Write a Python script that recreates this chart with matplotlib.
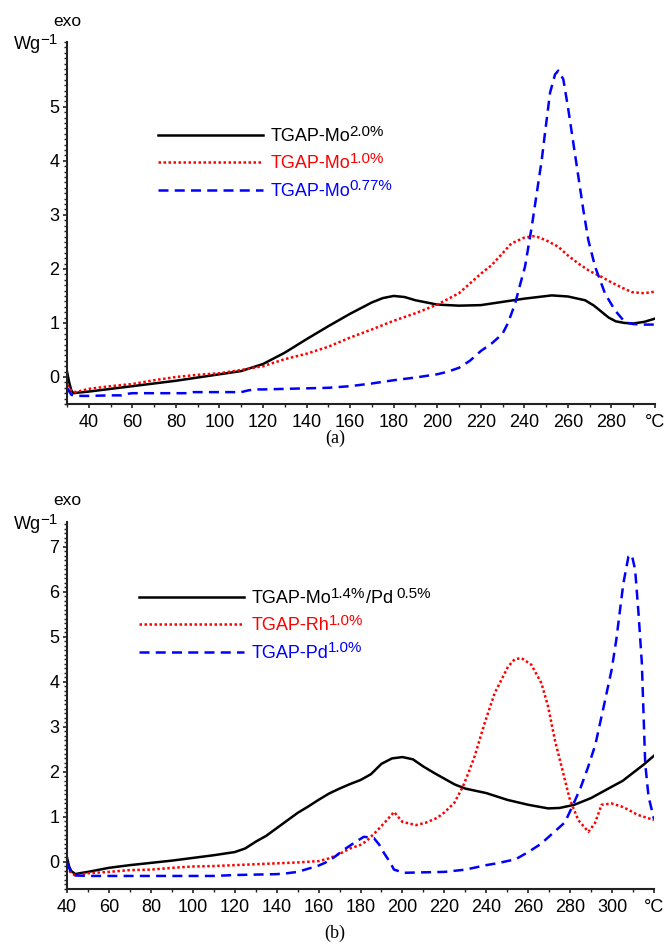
import matplotlib
matplotlib.use("Agg")
import matplotlib.pyplot as plt
from matplotlib.ticker import MultipleLocator
from matplotlib.transforms import IdentityTransform

plt.rcParams['font.family'] = ['Liberation Sans', 'DejaVu Sans']

# ---- panel (a) data ----
# legend labels as (text, is_superscript, gap_px) pieces
a_labels = [[("TGAP-Mo", False, 0), ("2.0%", True, -1)],
            [("TGAP-Mo", False, 0), ("1.0%", True, -1)],
            [("TGAP-Mo", False, 0), ("0.77%", True, -1)]]
a_xticks = [40, 60, 80, 100, 120, 140, 160, 180, 200, 220, 240, 260, 280, 300]
a_xticklabels = ["40", "60", "80", "100", "120", "140", "160", "180", "200",
                 "220", "240", "260", "280", "°C"]

a_black_x = [30, 31, 32, 33, 35, 40, 50, 60, 70, 80, 90, 100, 110, 120, 130, 140,
             150, 160, 170, 175, 180, 185, 190, 200, 210, 220, 225, 230, 240, 252.6,
             260, 267.9, 272, 278.7, 282, 286, 290, 295, 300]
a_black_y = [0.1, -0.1, -0.25, -0.3, -0.29, -0.27, -0.22, -0.17, -0.12, -0.07, -0.01,
             0.05, 0.11, 0.24, 0.45, 0.7, 0.94, 1.17, 1.38, 1.46, 1.5, 1.48, 1.42,
             1.34, 1.32, 1.33, 1.36, 1.39, 1.45, 1.51, 1.49, 1.42, 1.32, 1.1, 1.03,
             1.0, 0.99, 1.02, 1.08]

a_red_x = [30, 32, 34, 40, 50, 60, 70, 80, 90, 100, 110, 120, 130, 140, 150, 160,
           170, 180, 190, 200, 210, 220, 225, 230, 234, 240, 244.9, 250, 255.6, 260,
           264.8, 270, 275.6, 280, 285, 289.4, 295, 300]
a_red_y = [-0.15, -0.25, -0.28, -0.22, -0.17, -0.13, -0.06, 0.0, 0.04, 0.07, 0.13,
           0.2, 0.33, 0.43, 0.56, 0.73, 0.88, 1.04, 1.18, 1.34, 1.55, 1.91, 2.07,
           2.29, 2.47, 2.58, 2.61, 2.53, 2.41, 2.25, 2.1, 1.96, 1.85, 1.75, 1.65,
           1.57, 1.55, 1.58]

a_blue_x = [30, 32, 35, 40, 50, 55, 58, 60, 70, 80, 85, 88, 90, 100, 110, 113, 116,
            120, 130, 140, 150, 160, 170, 180, 190, 200, 205, 210, 215, 220, 225,
            230, 232.5, 235.7, 238, 240.3, 243.4, 245.7, 248, 249.5, 251.8, 254.1,
            255.6, 257.9, 260.2, 262.5, 264.8, 267.1, 269.4, 272.5, 277.1, 281.7,
            286.3, 290, 295, 300]
a_blue_y = [-0.2, -0.33, -0.35, -0.35, -0.34, -0.34, -0.31, -0.3, -0.3, -0.3, -0.3,
            -0.28, -0.28, -0.28, -0.28, -0.25, -0.23, -0.23, -0.22, -0.21, -0.2,
            -0.17, -0.12, -0.06, -0.01, 0.05, 0.1, 0.17, 0.3, 0.48, 0.62, 0.8, 1.0,
            1.35, 1.7, 2.04, 2.78, 3.4, 4.02, 4.52, 5.26, 5.6, 5.67, 5.51, 4.95,
            4.33, 3.71, 3.09, 2.53, 2.04, 1.54, 1.23, 1.01, 0.98, 0.97, 0.97]

# ---- panel (b) data ----
b_labels = [[("TGAP-Mo", False, 0), ("1.4%", True, -1), ("/Pd", False, 1), ("0.5%", True, 3)],
            [("TGAP-Rh", False, 0), ("1.0%", True, -1)],
            [("TGAP-Pd", False, 0), ("1.0%", True, -1)]]
b_xticks = [40, 60, 80, 100, 120, 140, 160, 180, 200, 220, 240, 260, 280, 300, 320]
b_xticklabels = ["40", "60", "80", "100", "120", "140", "160", "180", "200",
                 "220", "240", "260", "280", "300", "°C"]

b_black_x = [40, 41, 42, 44, 46, 50, 60, 70, 80, 90, 100, 110, 120, 125, 130, 135,
             140, 145, 150, 155, 160, 165, 170, 175, 180, 185, 190, 195, 200, 205,
             210, 215, 220, 225, 230, 240, 250, 260, 269.5, 275, 282, 290, 299.8,
             305, 310, 315, 320]
b_black_y = [0.1, -0.1, -0.2, -0.27, -0.25, -0.22, -0.13, -0.07, -0.02, 0.03, 0.09,
             0.15, 0.22, 0.3, 0.45, 0.58, 0.75, 0.92, 1.09, 1.23, 1.38, 1.52, 1.63,
             1.73, 1.82, 1.95, 2.18, 2.3, 2.33, 2.28, 2.12, 1.98, 1.85, 1.72, 1.63,
             1.53, 1.38, 1.27, 1.19, 1.2, 1.27, 1.42, 1.67, 1.8, 1.98, 2.16, 2.36]

b_red_x = [40, 42, 44, 46, 50, 60, 70, 80, 90, 100, 110, 120, 130, 140, 150, 160,
           165, 170, 175, 180, 183, 188, 192.6, 196, 200, 206.5, 211, 216.6, 220,
           224.7, 228.8, 231.5, 234.4, 239.2, 244, 250.4, 253.5, 256.7, 261.5,
           266.3, 269.5, 272.7, 275.9, 279.9, 283.9, 288.7, 291.8, 295, 299.8,
           304.6, 307.8, 312, 317.4, 320]
b_red_y = [-0.1, -0.25, -0.3, -0.28, -0.25, -0.22, -0.18, -0.17, -0.13, -0.1, -0.09,
           -0.07, -0.05, -0.03, -0.01, 0.02, 0.08, 0.18, 0.3, 0.38, 0.47, 0.7, 0.93,
           1.11, 0.89, 0.82, 0.87, 0.98, 1.1, 1.31, 1.67, 1.98, 2.34, 3.08, 3.75,
           4.34, 4.5, 4.53, 4.38, 3.97, 3.45, 2.71, 2.12, 1.38, 0.93, 0.67, 0.86,
           1.27, 1.3, 1.23, 1.16, 1.05, 0.97, 0.93]

b_blue_x = [40, 42, 44, 50, 60, 70, 80, 90, 100, 110, 120, 130, 140, 145, 150, 155,
            160, 163, 167.3, 172, 176.8, 181.6, 186.4, 189, 191.2, 194, 196, 200.8,
            210, 220, 230, 240, 245, 250, 254, 260, 266, 272, 277.5, 281.4, 285,
            288.5, 292, 296, 299.8, 302, 303.8, 305.4, 307.8, 309.4, 311, 312.6,
            314.2, 315, 315.8, 317.4, 320]
b_blue_y = [0.0, -0.25, -0.3, -0.31, -0.31, -0.31, -0.31, -0.31, -0.31, -0.31,
            -0.29, -0.28, -0.27, -0.25, -0.22, -0.15, -0.08, -0.02, 0.1, 0.27, 0.42,
            0.56, 0.53, 0.38, 0.2, 0.0, -0.17, -0.24, -0.23, -0.22, -0.17, -0.07,
            -0.03, 0.02, 0.06, 0.22, 0.4, 0.65, 0.88, 1.27, 1.65, 2.1, 2.6, 3.45,
            4.27, 4.93, 5.6, 6.19, 6.78, 6.82, 6.49, 5.53, 4.42, 3.3, 2.19, 1.45,
            0.95]

W, H = 666, 950
fig = plt.figure(figsize=(W / 100, H / 100), dpi=100)
ax_a = fig.add_axes([67 / W, 1 - 404 / H, 588 / W, 362 / H])
ax_b = fig.add_axes([67 / W, 1 - 889 / H, 587 / W, 367 / H])

FS = 13
red_style = dict(color='#ff0000', lw=1.8, linestyle=(0, (1, 1)))
blue_style = dict(color='#0000ff', lw=1.8, linestyle=(0, (4, 2.5)))
black_style = dict(color='#000000', lw=1.8, linestyle='-')


def style_axis(ax, xlim, ylim, xticks, xticklabels, ymax_label):
    for s in ['top', 'right']:
        ax.spines[s].set_visible(False)
    for s in ['left', 'bottom']:
        ax.spines[s].set_linewidth(1.5)
        ax.spines[s].set_color('#222222')
    ax.set_xlim(*xlim)
    ax.set_ylim(*ylim)
    ax.set_xticks(xticks)
    ax.set_xticklabels(xticklabels)
    ax.xaxis.set_minor_locator(MultipleLocator(10))
    ax.set_yticks(range(0, ymax_label + 1))
    ax.yaxis.set_minor_locator(MultipleLocator(0.1))
    ax.tick_params(which='major', direction='out', length=3, width=1.2,
                   labelsize=FS, color='#222222')
    ax.tick_params(which='minor', direction='out', length=2, width=1.0,
                   color='#222222')
    ax.tick_params(axis='x', which='major', pad=4.5)
    ax.tick_params(axis='y', which='major', pad=2.5)
    ax.text(0.0, 1.058, "exo", transform=ax.transAxes, ha='center',
            va='center', fontsize=12.5)


def add_pieces(x, baseline, pieces, color, renderer):
    # write text pieces left to right in pixel coords, superscripts raised
    for s, sup, gap in pieces:
        fs = FS * 0.84 if sup else FS
        dy = 5.5 if sup else 0
        t = fig.text(x + gap, baseline + dy, s, fontsize=fs, color=color,
                     ha='left', va='baseline', transform=IdentityTransform())
        x = t.get_window_extent(renderer).x1
    return x


# panel (a)
ax_a.plot(a_black_x, a_black_y, label=a_labels[0][0][0], **black_style)
ax_a.plot(a_red_x, a_red_y, label=a_labels[1][0][0], **red_style)
ax_a.plot(a_blue_x, a_blue_y, label=a_labels[2][0][0], **blue_style)
style_axis(ax_a, (30, 300), (-0.5, 6.2), a_xticks, a_xticklabels, 5)
leg_a = ax_a.legend(loc='upper left', bbox_to_anchor=(158 / W, 1 - 128 / H),
                    bbox_transform=fig.transFigure, frameon=False, fontsize=FS,
                    handlelength=5.8, handletextpad=0.45, labelspacing=0.58,
                    borderpad=0, borderaxespad=0, labelcolor='linecolor')

# panel (b)
ax_b.plot(b_black_x, b_black_y, label=b_labels[0][0][0], **black_style)
ax_b.plot(b_red_x, b_red_y, label=b_labels[1][0][0], **red_style)
ax_b.plot(b_blue_x, b_blue_y, label=b_labels[2][0][0], **blue_style)
style_axis(ax_b, (40, 320), (-0.6, 7.55), b_xticks, b_xticklabels, 7)
leg_b = ax_b.legend(loc='upper left', bbox_to_anchor=(139 / W, 1 - 590 / H),
                    bbox_transform=fig.transFigure, frameon=False, fontsize=FS,
                    handlelength=5.8, handletextpad=0.45, labelspacing=0.58,
                    borderpad=0, borderaxespad=0, labelcolor='linecolor')

fig.text(335 / W, 1 - 438 / H, "(a)", ha='center', va='center',
         fontsize=13, family='Liberation Serif')
fig.text(335 / W, 1 - 933 / H, "(b)", ha='center', va='center',
         fontsize=13, family='Liberation Serif')

fig.canvas.draw()
renderer = fig.canvas.get_renderer()

for leg, labels in [(leg_a, a_labels), (leg_b, b_labels)]:
    for txt, pieces in zip(leg.get_texts(), labels):
        bb = txt.get_window_extent(renderer)
        _, _, d = renderer.get_text_width_height_descent(
            "lp", txt.get_fontproperties(), ismath=False)
        add_pieces(bb.x1, bb.y0 + d, pieces[1:], txt.get_color(), renderer)

# y unit label "Wg^-1" next to the top of each y axis
for ax in [ax_a, ax_b]:
    top = ax.transAxes.transform((0, 1))[1]
    add_pieces(14, top - 7, [("Wg", False, 0), ("\u22121", True, -1)],
               'black', renderer)

fig.savefig("out.png", dpi=100)
